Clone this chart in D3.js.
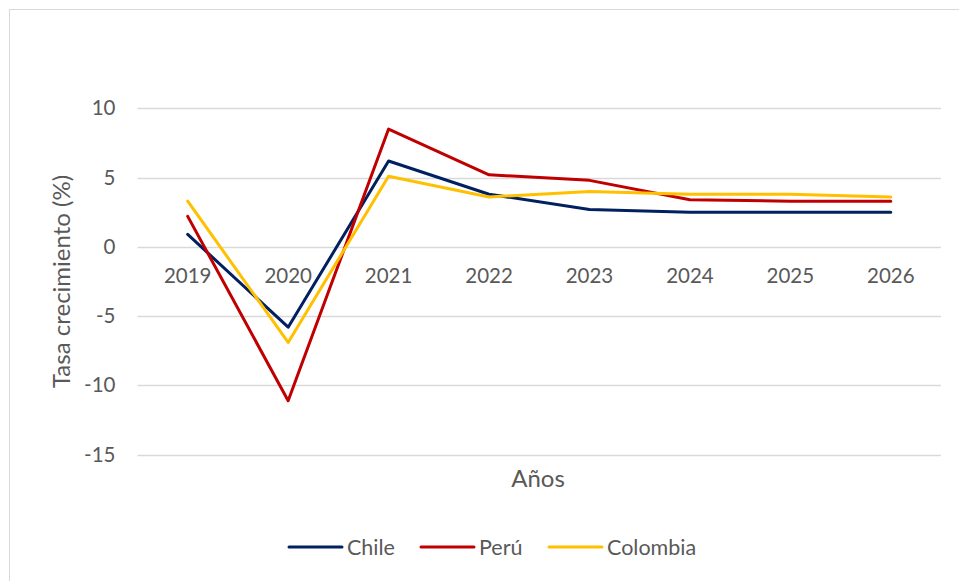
<!DOCTYPE html>
<html>
<head>
<meta charset="utf-8">
<script src="https://cdn.jsdelivr.net/npm/d3@7"></script>
<style>
  body { margin: 0; background: #fff; }
  text { font-family: Lato, "Open Sans", sans-serif; fill: #595959; }
</style>
</head>
<body>
<div id="chart"></div>
<script>
// data
var years = ["2019", "2020", "2021", "2022", "2023", "2024", "2025", "2026"];
var chile = [0.9, -5.8, 6.2, 3.8, 2.7, 2.5, 2.5, 2.5];
var peru = [2.2, -11.1, 8.5, 5.2, 4.8, 3.4, 3.3, 3.3];
var colombia = [3.3, -6.9, 5.1, 3.6, 4.0, 3.8, 3.8, 3.6];
var seriesNames = ["Chile", "Perú", "Colombia"];
var yTicks = [10, 5, 0, -5, -10, -15];

var series = [
  { name: seriesNames[0], values: chile, color: "#002060" },
  { name: seriesNames[1], values: peru, color: "#C00000" },
  { name: seriesNames[2], values: colombia, color: "#FFC000" }
];

var W = 959, H = 581;
var plot = { left: 137.5, right: 941, top: 108.3, bottom: 454.7 };

var svg = d3.select("#chart")
  .append("svg")
    .attr("width", W)
    .attr("height", H);

// chart frame (right and bottom edges fall outside the picture)
svg.append("rect")
  .attr("x", 9.5)
  .attr("y", 9.5)
  .attr("width", 980)
  .attr("height", 600)
  .attr("fill", "none")
  .attr("stroke", "#d9d9d9")
  .attr("stroke-width", 1);

// X axis
var x = d3.scaleBand()
  .domain(years)
  .range([plot.left, plot.right]);

// Y axis
var y = d3.scaleLinear()
  .domain([-15, 10])
  .range([plot.bottom, plot.top]);

// gridlines
svg.append("g")
  .selectAll("line")
  .data(yTicks)
  .enter()
  .append("line")
    .attr("x1", plot.left)
    .attr("x2", plot.right)
    .attr("y1", function(d) { return Math.round(y(d)) + 0.5; })
    .attr("y2", function(d) { return Math.round(y(d)) + 0.5; })
    .attr("stroke", "#d9d9d9")
    .attr("stroke-width", 1.5);

// y tick labels (plain hyphen for negatives, like the original)
var yAxis = svg.append("g")
  .attr("transform", "translate(" + (plot.left - 22) + ",0)")
  .call(d3.axisLeft(y).tickValues(yTicks).tickSize(0).tickPadding(0)
    .tickFormat(function(d) { return String(d); }));
yAxis.select(".domain").remove();
yAxis.selectAll("text")
  .attr("font-size", "20.5px")
  .attr("fill", "#595959")
  .style("font-family", "Lato, 'Open Sans', sans-serif");

// x tick labels, sitting under the zero line
var xAxis = svg.append("g")
  .attr("transform", "translate(0," + y(0) + ")")
  .call(d3.axisBottom(x).tickSize(0).tickPadding(22));
xAxis.select(".domain").remove();
xAxis.selectAll("text")
  .attr("font-size", "20.5px")
  .attr("fill", "#595959")
  .style("font-family", "Lato, 'Open Sans', sans-serif");

// axis titles
svg.append("text")
  .attr("x", 538)
  .attr("y", 487)
  .attr("text-anchor", "middle")
  .style("font-size", "24px")
  .text("Años");

svg.append("text")
  .attr("transform", "translate(70," + ((plot.top + plot.bottom) / 2) + ")rotate(-90)")
  .attr("text-anchor", "middle")
  .style("font-size", "24px")
  .text("Tasa crecimiento (%)");

// lines
var line = d3.line()
  .x(function(d, i) { return x(years[i]) + x.bandwidth() / 2; })
  .y(function(d) { return y(d); });

svg.append("g")
  .selectAll("path")
  .data(series)
  .enter()
  .append("path")
    .attr("d", function(d) { return line(d.values); })
    .attr("fill", "none")
    .attr("stroke", function(d) { return d.color; })
    .attr("stroke-width", 3)
    .attr("stroke-linejoin", "round")
    .attr("stroke-linecap", "round");

// legend
var legendX = [289, 421, 549];
var legend = svg.append("g")
  .selectAll("g")
  .data(series)
  .enter()
  .append("g")
    .attr("transform", function(d, i) { return "translate(" + legendX[i] + ",547)"; });

legend.append("line")
  .attr("x1", 0)
  .attr("x2", 53)
  .attr("stroke", function(d) { return d.color; })
  .attr("stroke-width", 3)
  .attr("stroke-linecap", "round");

legend.append("text")
  .attr("x", 58)
  .attr("dy", "0.35em")
  .style("font-size", "21.5px")
  .text(function(d) { return d.name; });
</script>
</body>
</html>
